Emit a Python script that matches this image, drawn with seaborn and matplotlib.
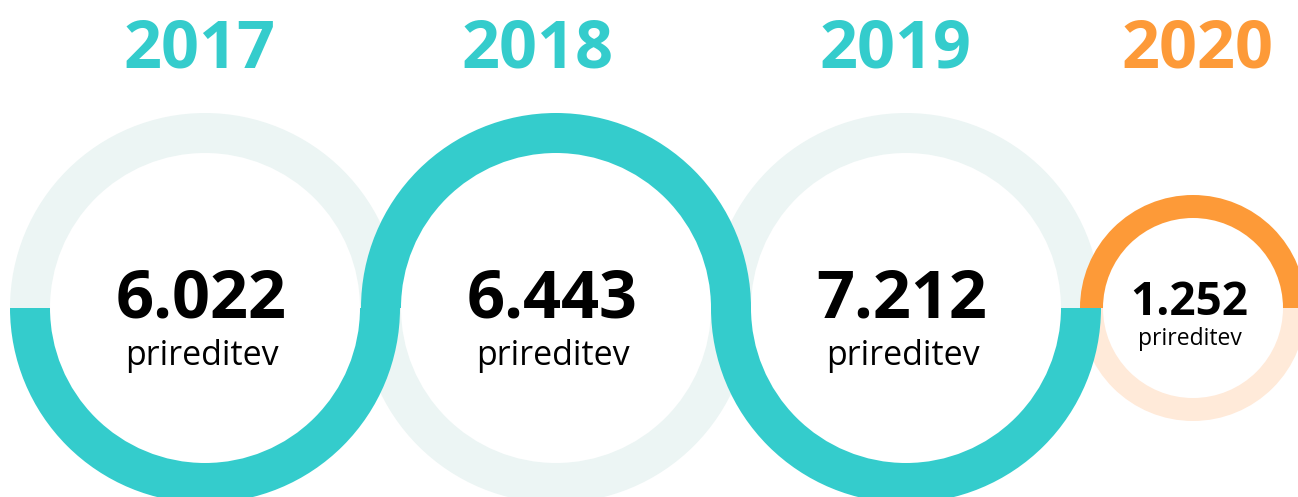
import matplotlib
matplotlib.use("Agg")
import matplotlib.pyplot as plt
import seaborn as sns

# podatki
years = ["2017", "2018", "2019", "2020"]
events = [6022, 6443, 7212, 1252]
unit = "prireditev"
share = [0.5, 0.5, 0.5, 0.5]          # delež obarvanega kroga
half = ["bottom", "top", "bottom", "top"]

teal = "#34CCCC"
teal_pale = "#ECF5F4"
orange = "#FD9A38"
orange_pale = "#FFEAD9"
strong_cols = [teal, teal, teal, orange]
pale_cols = [teal_pale, teal_pale, teal_pale, orange_pale]

# postavitev (v pikslih, y od zgoraj)
cx = [205, 556, 906, 1193]
year_x = [200, 537, 895, 1197]
cy = 308
r_out = [195, 195, 195, 113]
ring_w = [40, 40, 40, 23]
num_size = [48, 48, 48, 33]
unit_size = [24.5, 24.5, 24.5, 16.5]
num_base = [318, 318, 318, 315]
unit_base = [365, 365, 365, 345]

sns.set_theme(style="white")
plt.rcParams["font.family"] = ["Open Sans", "DejaVu Sans"]

fig = plt.figure(figsize=(12.98, 4.97), dpi=100)
ax = fig.add_axes([0, 0, 1, 1])

for i in range(len(years)):
    start = 0 if half[i] == "bottom" else 180   # y os je obrnjena
    wedges, _ = ax.pie(
        [share[i], 1 - share[i]],
        colors=[strong_cols[i], pale_cols[i]],
        startangle=start,
        counterclock=True,
        radius=r_out[i],
        center=(cx[i], cy),
        wedgeprops=dict(width=ring_w[i], linewidth=0, antialiased=True),
        frame=False,
    )
    wedges[0].set_zorder(3)
    wedges[1].set_zorder(1)

    ax.text(year_x[i], 68, years[i], ha="center", va="baseline",
            fontsize=48, fontweight="bold", color=strong_cols[i], zorder=5)
    label = f"{events[i]:,}".replace(",", ".")
    ax.text(cx[i] - 4, num_base[i], label, ha="center", va="baseline",
            fontsize=num_size[i], fontweight="bold", color="black", zorder=5)
    ax.text(cx[i] - 3, unit_base[i], unit, ha="center", va="baseline",
            fontsize=unit_size[i], color="black", zorder=5)

ax.set_xlim(0, 1298)
ax.set_ylim(497, 0)
ax.set_aspect("auto")
ax.axis("off")

plt.savefig("out.png", dpi=100, facecolor="white")
